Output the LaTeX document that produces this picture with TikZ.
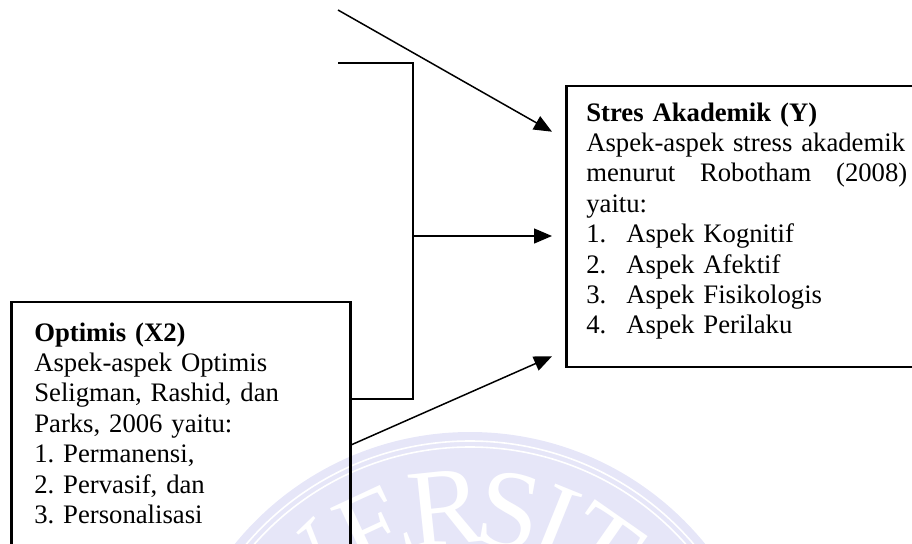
\documentclass[tikz,border=0pt]{standalone}
\usepackage{fontspec}
\setmainfont{Liberation Serif}
\usepackage{xcolor}
\usetikzlibrary{positioning, calc, arrows.meta}
\definecolor{sealblue}{RGB}{230,230,248}

\begin{document}
\begin{tikzpicture}[
        x=1pt, y=-1pt,
        every node/.style={font=\fontsize{26.7}{30.4}\selectfont\frenchspacing},
        box/.style={draw, rectangle, line width=2.6pt, align=left, text height=22pt, inner ysep=13pt, anchor=base west},
        link/.style={line width=1.5pt, -{Triangle[length=18pt, width=15pt]}},
        bracket/.style={line width=2.8pt},
        seal/.style={text=white, font=\fontsize{112}{112}\selectfont}
    ]
    \useasboundingbox (0,0) rectangle (912,543);

    \fill[sealblue] (470,735) circle[radius=303pt];
    \draw[white, line width=1.6pt] (470,735) circle[radius=294pt];
    \draw[white, line width=1.6pt] (470,735) circle[radius=288pt];
    \foreach \ch/\a [count=\i] in {U/177, N/162, I/150, V/134, E/115, R/96, S/80, I/68, T/55, A/40, S/25}
        \node[seal, rotate=\a-90] (seal\i) at ({470+228*cos(\a)}, {735-228*sin(\a)}) {\ch};

    \node[box, text width=323pt, inner xsep=20pt, text depth=233pt] (stres) at (565,121) {\textbf{Stres Akademik (Y)}\\
        Aspek-aspek stress akademik\\
        \makebox[321pt][s]{menurut\hfill Robotham\hfill (2008)}\\
        yaitu:\\
        \makebox[40pt][l]{1.}Aspek Kognitif\\
        \makebox[40pt][l]{2.}Aspek Afektif\\
        \makebox[40pt][l]{3.}Aspek Fisikologis\\
        \makebox[40pt][l]{4.}Aspek Perilaku};

    \node[box, text width=293pt, inner xsep=23pt, text height=26pt, text depth=215pt] (optimis) at (10,341) {\textbf{Optimis (X2)}\\
        Aspek-aspek Optimis\\
        Seligman, Rashid, dan\\
        Parks, 2006 yaitu:\\
        1. Permanensi,\\
        2. Pervasif, dan\\
        3. Personalisasi};

    \coordinate (fromtop) at (338,10);
    \coordinate (bartop) at (338,63);
    \coordinate (join) at (413,399);
    \coordinate (barmid) at (413,236);
    \coordinate (tipx) at ($(stres.west)+(-13,0)$);

    \draw[link] (fromtop) -- ($(stres.north west)+(-13,47)$);
    \draw[bracket] (bartop) -| (join) -- (join -| optimis.east);
    \draw[link, line width=1.3pt] (barmid) -- (barmid -| tipx);
    \draw[link] ($(optimis.north east)+(0,144)$) -- ($(stres.south west)+(-13,-12)$);

\end{tikzpicture}
\end{document}
